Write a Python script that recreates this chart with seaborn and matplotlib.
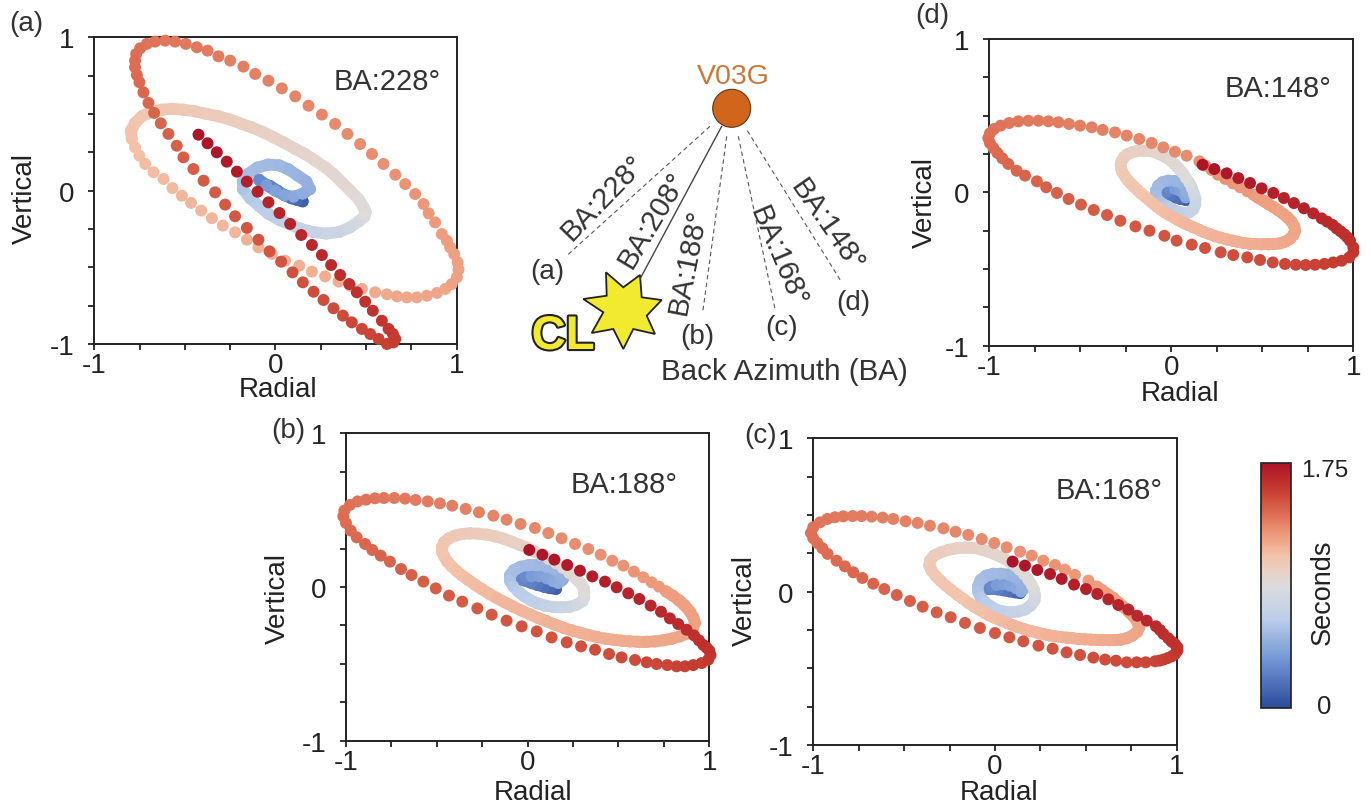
import numpy as np
import pandas as pd
import matplotlib
matplotlib.use("Agg")
import matplotlib.pyplot as plt
import seaborn as sns
from matplotlib.collections import LineCollection
from matplotlib.colors import LinearSegmentedColormap, Normalize
from matplotlib.patches import Circle, Polygon
import matplotlib.patheffects as pe

W, H = 1371, 812

# time of every particle motion sample, shared by the four panels
seconds = [
    .10, .14, .18, .21, .24, .26, .28, .30,
    .38, .40, .42, .44, .46, .47,
    .48, .50, .51, .52, .53, .54, .55, .56,
    .58, .61, .63, .65, .67, .68, .70, .72, .74, .75, .79, .81, .84, .88,
    .89, .90, .91, .92, .92, .93, .94, .95, .96, .97, .98, .98, .99, 1.00, 1.01, 1.02, 1.03, 1.04, 1.04, 1.05, 1.06, 1.07, 1.08, 1.08,
    1.09, 1.09, 1.10, 1.10, 1.11, 1.11, 1.12, 1.12, 1.13, 1.13, 1.13, 1.14, 1.14, 1.14, 1.15, 1.15, 1.15, 1.16, 1.16, 1.16, 1.17, 1.17, 1.17, 1.18, 1.18, 1.18,
    1.19, 1.19, 1.19, 1.20, 1.20, 1.20, 1.21, 1.21, 1.21, 1.22, 1.22, 1.22, 1.23, 1.23,
    1.24, 1.25, 1.25, 1.26, 1.26, 1.27, 1.27, 1.28, 1.28, 1.29, 1.29, 1.30, 1.30, 1.31, 1.31, 1.32, 1.32, 1.33, 1.33, 1.34, 1.34, 1.35, 1.35, 1.36,
    1.36, 1.37, 1.37, 1.38, 1.38, 1.39, 1.39, 1.40, 1.40, 1.41, 1.41, 1.42,
    1.42, 1.43, 1.43, 1.44, 1.44, 1.45, 1.45, 1.46, 1.46, 1.47, 1.47, 1.48, 1.48, 1.49, 1.49, 1.50, 1.50, 1.51, 1.51, 1.52, 1.52, 1.53,
    1.54, 1.55, 1.56, 1.56, 1.57, 1.58, 1.59, 1.60,
    1.61, 1.62, 1.62, 1.63, 1.64, 1.65, 1.65, 1.66, 1.67, 1.68, 1.68, 1.69, 1.70, 1.71, 1.72, 1.73, 1.74, 1.75,
]

a_radial = [
    .15, .12, .09, .05, .01, -.03, -.07, -.09,
    -.05, 0, .05, .10, .15, .19,
    .17, .12, .07, .02, -.04, -.10, -.15, -.18,
    -.18, -.14, -.09, -.04, .02, .08, .14, .21, .28, .35, .41, .46, .49, .497,
    .486, .458, .412, .366, .320, .274, .219, .164, .109, .044, -.011, -.066, -.131, -.186, -.250, -.315, -.379, -.443, -.508, -.572, -.627, -.683, -.738, -.775,
    -.797, -.793, -.775, -.751, -.719, -.673, -.618, -.569, -.517, -.466, -.410, -.351, -.291, -.223, -.158, -.094, -.020, .053, .131, .201, .274, .348, .412, .477, .550, .615,
    .670, .725, .780, .835, .891, .937, .973, 1.001, 1.010, 1.005, .986, .964, .946, .918,
    .881, .845, .817, .771, .716, .661, .596, .532, .467, .397, .329, .256, .182, .109, .035, -.039, -.112, -.177, -.250, -.315, -.375, -.434, -.495, -.554,
    -.609, -.664, -.710, -.747, -.769, -.775, -.775, -.765, -.751, -.729, -.701, -.670,
    -.633, -.591, -.545, -.508, -.453, -.397, -.333, -.278, -.223, -.158, -.094, -.033, .031, .094, .151, .210, .265, .320, .372, .421, .477, .523,
    .569, .615, .651, .661, .648, .624, .587, .537,
    .495, .449, .407, .357, .307, .256, .201, .142, .081, .022, -.039, -.099, -.158, -.213, -.269, -.324, -.375, -.425,
]
a_vertical = [
    -.07, -.06, -.05, -.03, 0, .03, .05, .07,
    .035, 0, -.03, -.04, -.02, .01,
    .06, .10, .14, .165, .17, .15, .11, .06,
    .01, -.05, -.10, -.15, -.19, -.22, -.25, -.27, -.28, -.27, -.24, -.20, -.17, -.14,
    -.109, -.054, 0, .054, .109, .152, .196, .239, .272, .315, .348, .380, .413, .435, .463, .485, .5, .517, .528, .533, .528, .515, .485, .441,
    .391, .337, .283, .228, .174, .120, .076, .017, -.033, -.080, -.130, -.180, -.228, -.272, -.320, -.370, -.413, -.457, -.489, -.528, -.559, -.593, -.620, -.641, -.663, -.676,
    -.689, -.696, -.696, -.685, -.667, -.641, -.609, -.565, -.515, -.467, -.413, -.370, -.326, -.283,
    -.207, -.148, -.087, -.022, .043, .104, .174, .239, .304, .370, .435, .496, .554, .615, .667, .717, .761, .809, .848, .876, .913, .935, .957, .972,
    .978, .972, .957, .928, .891, .848, .804, .754, .707, .641, .572, .507,
    .439, .370, .293, .217, .141, .065, -.011, -.091, -.167, -.243, -.320, -.396, -.463, -.533, -.598, -.659, -.713, -.767, -.815, -.859, -.902, -.935,
    -.967, -1.0, -.989, -.967, -.935, -.902, -.848, -.783,
    -.724, -.663, -.609, -.550, -.485, -.420, -.354, -.289, -.217, -.146, -.076, -.007, .059, .124, .189, .250, .309, .365,
]

b_radial = [
    .156, .123, .090, .055, .022, -.009, -.033, -.015,
    .022, .064, .105, .141, .169, .193,
    .178, .145, .105, .059, .009, -.039, -.075, -.097,
    -.097, -.079, -.051, -.018, .017, .053, .095, .141, .187, .233, .270, .301, .312, .312,
    .310, .292, .261, .229, .193, .156, .116, .075, .035, -.006, -.046, -.088, -.134, -.180, -.226, -.272, -.317, -.360, -.400, -.433, -.459, -.472, -.472, -.459,
    -.442, -.418, -.391, -.360, -.327, -.290, -.253, -.213, -.171, -.125, -.079, -.033, .013, .059, .105, .150, .196, .242, .288, .334, .380, .426, .472, .517, .563, .609,
    .655, .701, .747, .793, .839, .879, .908, .921, .912, .894, .866, .835, .798, .761,
    .723, .683, .637, .585, .527, .466, .402, .334, .261, .187, .114, .040, -.039, -.116, -.189, -.268, -.341, -.415, -.483, -.550, -.617, -.675, -.734, -.791,
    -.840, -.890, -.936, -.978, -1.009, -1.015, -1.0, -.974, -.941, -.895, -.855, -.809,
    -.758, -.697, -.639, -.574, -.506, -.433, -.360, -.277, -.198, -.116, -.033, .050, .132, .215, .294, .371, .448, .517, .591, .655, .710, .769,
    .820, .866, .912, .958, .994, 1.007, 1.0, .985,
    .967, .943, .916, .875, .829, .783, .734, .677, .615, .554, .490, .426, .356, .288, .218, .147, .081, .009,
]
b_vertical = [
    -.013, -.007, .002, .013, .026, .039, .048, .063,
    .069, .069, .056, .037, .026, .048,
    .085, .113, .132, .143, .143, .132, .111, .078,
    .041, .004, -.030, -.061, -.087, -.106, -.121, -.130, -.132, -.128, -.115, -.093, -.067, -.039,
    -.013, .024, .059, .091, .124, .154, .182, .208, .232, .256, .275, .295, .315, .330, .341, .347, .349, .345, .334, .317, .291, .260, .230, .197,
    .165, .134, .104, .074, .046, .015, -.013, -.043, -.072, -.100, -.128, -.154, -.178, -.202, -.223, -.245, -.265, -.282, -.297, -.312, -.325, -.336, -.343, -.349, -.354, -.356,
    -.356, -.354, -.347, -.336, -.321, -.302, -.273, -.234, -.197, -.161, -.121, -.089, -.056, -.028,
    .002, .030, .063, .100, .139, .171, .210, .247, .280, .317, .351, .384, .410, .438, .464, .486, .508, .529, .544, .557, .566, .575, .579, .579,
    .577, .568, .557, .534, .497, .460, .416, .367, .323, .280, .241, .204,
    .165, .117, .078, .035, -.009, -.056, -.095, -.139, -.180, -.219, -.256, -.289, -.328, -.360, -.386, -.408, -.436, -.458, -.475, -.490, -.501, -.508,
    -.516, -.516, -.508, -.495, -.473, -.443, -.414, -.395,
    -.377, -.347, -.315, -.278, -.241, -.204, -.161, -.121, -.078, -.041, -.002, .035, .069, .106, .143, .178, .210, .241,
]

c_radial = [
    .138, .110, .079, .046, .015, -.013, -.037, -.018,
    .009, .046, .083, .116, .143, .156,
    .141, .110, .073, .031, -.009, -.050, -.079, -.092,
    -.092, -.079, -.055, -.024, .009, .046, .086, .128, .165, .196, .217, .220, .215, .202,
    .183, .160, .134, .105, .073, .037, 0, -.037, -.079, -.119, -.165, -.211, -.257, -.297, -.336, -.358, -.361, -.349, -.325, -.299, -.270, -.239, -.207, -.174,
    -.145, -.117, -.088, -.059, -.028, .004, .035, .066, .099, .132, .165, .198, .231, .264, .297, .330, .363, .396, .429, .462, .495, .528, .561, .594, .628, .661,
    .692, .725, .756, .783, .794, .783, .761, .734, .706, .679, .651, .624, .593, .560,
    .514, .440, .385, .330, .266, .202, .138, .064, -.004, -.073, -.147, -.217, -.284, -.358, -.426, -.492, -.560, -.618, -.679, -.734, -.783, -.835, -.881, -.923,
    -.963, -1.0, -1.013, -1.0, -.978, -.950, -.921, -.872, -.826, -.780, -.730, -.670,
    -.609, -.541, -.468, -.398, -.321, -.244, -.165, -.083, 0, .079, .156, .239, .317, .394, .468, .541, .606, .666, .725, .780, .829, .881,
    .905, .927, .950, .972, .991, 1.004, 1.004, .991,
    .972, .954, .927, .908, .886, .835, .783, .734, .679, .624, .563, .501, .435, .367, .303, .233, .165, .097,
]
c_vertical = [
    -.009, -.004, .002, .009, .015, .020, .017, .033,
    .043, .048, .039, .022, 0, .017,
    .061, .091, .111, .117, .117, .104, .076, .039,
    0, -.037, -.070, -.096, -.117, -.130, -.135, -.130, -.117, -.091, -.059, -.026, .007, .043,
    .078, .113, .143, .174, .2, .224, .243, .261, .276, .285, .287, .283, .272, .257, .235, .202, .170, .137, .100, .070, .039, .009, -.020, -.048,
    -.074, -.096, -.117, -.137, -.157, -.174, -.189, -.204, -.220, -.233, -.246, -.257, -.267, -.276, -.285, -.291, -.296, -.3, -.304, -.309, -.311, -.313, -.315, -.317, -.317, -.315,
    -.313, -.304, -.287, -.261, -.233, -.196, -.161, -.130, -.098, -.070, -.041, -.020, .007, .033,
    .072, .109, .143, .174, .202, .235, .261, .289, .317, .343, .370, .391, .413, .430, .448, .459, .474, .483, .489, .493, .493, .491, .485, .474,
    .452, .420, .383, .348, .317, .283, .246, .202, .165, .126, .089, .052,
    .017, -.022, -.061, -.098, -.135, -.167, -.204, -.237, -.270, -.298, -.324, -.352, -.372, -.396, -.413, -.430, -.443, -.450, -.461, -.461, -.461, -.454,
    -.450, -.443, -.433, -.422, -.407, -.385, -.363, -.343,
    -.326, -.304, -.276, -.25, -.226, -.189, -.157, -.117, -.087, -.050, -.015, .017, .046, .083, .115, .141, .170, .196,
]

d_radial = [
    .081, .052, .025, -.003, -.025, -.039, -.028, -.006,
    .021, .048, .07, .081, .083, .077,
    .052, .021, -.016, -.049, -.071, -.083, -.083, -.071,
    -.052, -.028, -.003, .021, .048, .076, .1, .122, .133, .133, .125, .114, .1, .081,
    .063, .041, .019, -.006, -.032, -.061, -.089, -.120, -.153, -.184, -.213, -.241, -.259, -.272, -.277, -.275, -.268, -.253, -.239, -.222, -.204, -.184, -.166, -.145,
    -.124, -.102, -.080, -.058, -.034, -.010, .016, .041, .067, .094, .122, .151, .180, .210, .241, .272, .305, .338, .369, .400, .433, .466, .499, .532, .565, .597,
    .625, .652, .671, .680, .676, .661, .640, .616, .588, .561, .533, .506, .478, .451,
    .418, .378, .338, .297, .257, .222, .188, .155, .085, .021, -.043, -.107, -.175, -.244, -.308, -.376, -.436, -.500, -.561, -.619, -.674, -.729, -.784, -.839,
    -.890, -.936, -.973, -.995, -1.004, -.995, -.976, -.954, -.927, -.894, -.848, -.802,
    -.737, -.686, -.627, -.563, -.495, -.425, -.352, -.279, -.196, -.119, -.037, .030, .113, .186, .272, .341, .418, .488, .558, .625, .684, .738,
    .790, .841, .890, .936, .978, 1.0, 1.0, .982,
    .967, .951, .930, .908, .887, .857, .826, .780, .729, .674, .619, .561, .497, .433, .369, .305, .237, .173,
]
d_vertical = [
    -.05, -.043, -.033, -.017, -.004, .004, .017, .026,
    .022, .011, -.011, -.033, -.005, .03,
    .061, .072, .076, .065, .043, .011, -.022, -.05,
    -.07, -.087, -.104, -.12, -.13, -.137, -.13, -.109, -.076, -.043, -.011, .026, .061, .093,
    .126, .157, .183, .209, .230, .248, .261, .270, .272, .270, .261, .248, .228, .204, .180, .157, .130, .104, .080, .059, .037, .015, -.007, -.026,
    -.048, -.070, -.091, -.111, -.130, -.148, -.165, -.183, -.198, -.213, -.228, -.243, -.259, -.272, -.285, -.296, -.307, -.315, -.324, -.330, -.335, -.337, -.339, -.339, -.337, -.333,
    -.322, -.304, -.278, -.25, -.222, -.191, -.165, -.141, -.117, -.096, -.076, -.054, -.035, -.015,
    .007, .033, .059, .087, .115, .146, .174, .202, .239, .265, .293, .322, .348, .370, .391, .407, .424, .435, .446, .457, .463, .467, .467, .463,
    .452, .435, .413, .385, .354, .322, .289, .257, .222, .185, .141, .109,
    .072, .033, -.004, -.043, -.080, -.115, -.148, -.185, -.222, -.250, -.283, -.315, -.341, -.363, -.391, -.409, -.424, -.441, -.457, -.467, -.472, -.474,
    -.472, -.467, -.457, -.446, -.424, -.391, -.359, -.315,
    -.293, -.274, -.254, -.235, -.213, -.191, -.170, -.137, -.104, -.070, -.037, -.004, .026, .061, .093, .124, .152, .180,
]

panel_boxes = {"a": (94.3, 38.3, 456.7, 345), "b": (346, 434.3, 709.3, 741.7),
               "c": (813.3, 439.3, 1176.7, 746), "d": (989, 40, 1353.3, 346.7)}
panel_series = {"a": (a_radial, a_vertical), "b": (b_radial, b_vertical),
                "c": (c_radial, c_vertical), "d": (d_radial, d_vertical)}
panel_ba = {"a": "BA:228°", "b": "BA:188°", "c": "BA:168°", "d": "BA:148°"}
ba_pos = {"a": (387, 82), "b": (624, 485), "c": (1109, 491), "d": (1278, 89)}
letter_pos = {"a": (26, 24), "b": (288, 431), "c": (761, 436), "d": (932, 16)}
radial_pos = {"a": (278, 390), "b": (533, 793), "c": (999, 793), "d": (1180, 394)}
vertical_pos = {"a": (25, 199), "b": (278, 599), "c": (745, 601), "d": (925, 202)}
band_end = {"a": 62, "b": 100, "c": 100, "d": 100}
tick_values = [-1, -.75, -.5, -.25, 0, .25, .5, .75, 1]
tick_labels = ["-1", "", "", "", "0", "", "", "", "1"]

# source-station sketch, in figure pixels
station = (731.7, 109.3)
dashed_rays = [((710, 127.3), (566.7, 256.7)), ((726.7, 137.3), (702.7, 313.3)),
               ((738.3, 137.3), (775, 310)), ((747.3, 131.7), (841.7, 283.3))]
solid_ray = ((721.7, 127.3), (640, 280))
star = [(606, 273.3), (623.3, 288.3), (640, 276), (641.7, 298.3), (661.7, 301), (646.7, 316.7), (655, 335),
        (633.3, 330), (623.3, 350), (613.3, 330), (591.7, 334), (603.3, 313.3), (583.3, 300), (606.7, 296.7)]
ray_labels = [("BA:228°", 603, 198, 46), ("BA:208°", 652, 220, 59), ("BA:188°", 688, 262, 79),
              ("BA:168°", 778, 257, -67), ("BA:148°", 827, 226, -55)]
end_labels = [("(a)", 547, 272), ("(b)", 697, 337), ("(c)", 782, 328), ("(d)", 853, 303)]

sns.set_theme(style="ticks")
plt.rcParams["font.family"] = ["Liberation Sans", "DejaVu Sans"]

cmap = LinearSegmentedColormap.from_list("seconds", [
    (0, "#2b4a9c"), (.2, "#7497d6"), (.36, "#bacdea"), (.5, "#dcdcdc"), (.62, "#f3c4ac"),
    (.7, "#ee9f80"), (.8, "#dc6a50"), (.9, "#c4392f"), (1, "#ac1428")])
norm = Normalize(0, 1.75)
ink = "#222222"

fig = plt.figure(figsize=(W / 100, H / 100), dpi=100, facecolor="white")


def box_to_axes(x0, y0, x1, y1):
    return [x0 / W, 1 - y1 / H, (x1 - x0) / W, (y1 - y0) / H]


for key, box in panel_boxes.items():
    ax = fig.add_axes(box_to_axes(*box))
    radial, vertical = panel_series[key]
    data = pd.DataFrame({"Radial": radial, "Vertical": vertical, "Seconds": seconds})

    # the early samples sit so close together that they read as a band
    end = band_end[key]
    pts = data[["Radial", "Vertical"]].to_numpy()[:end]
    segs = np.stack([pts[:-1], pts[1:]], axis=1)
    band = LineCollection(segs, cmap=cmap, norm=norm, linewidths=8.5, capstyle="round", zorder=2.9)
    band.set_array(data["Seconds"].to_numpy()[1:end])
    ax.add_collection(band)

    sns.scatterplot(data=data, x="Radial", y="Vertical", hue="Seconds", palette=cmap, hue_norm=norm,
                    s=74, linewidth=0, legend=False, clip_on=False, zorder=3, ax=ax)
    ax.set_xlim(-1, 1)
    ax.set_ylim(-1, 1)
    ax.set_xticks(tick_values, tick_labels)
    ax.set_yticks(tick_values, tick_labels)
    ax.tick_params(length=4, width=1.3, color=ink, labelsize=20, labelcolor=ink)
    ax.tick_params(axis="x", pad=2)
    ax.tick_params(axis="y", pad=10)
    for spine in ax.spines.values():
        spine.set_visible(True)
        spine.set_linewidth(1.4)
        spine.set_color(ink)
    ax.set_xlabel("Radial", fontsize=20, color=ink, va="center")
    ax.set_ylabel("Vertical", fontsize=20, color=ink, va="center")
    ax.xaxis.set_label_coords(radial_pos[key][0] / W, 1 - radial_pos[key][1] / H, transform=fig.transFigure)
    ax.yaxis.set_label_coords(vertical_pos[key][0] / W, 1 - vertical_pos[key][1] / H, transform=fig.transFigure)
    fig.text(ba_pos[key][0] / W, 1 - ba_pos[key][1] / H, panel_ba[key], fontsize=21, color="#333333",
             ha="center", va="center")
    fig.text(letter_pos[key][0] / W, 1 - letter_pos[key][1] / H, f"({key})", fontsize=20, color="#333333",
             ha="center", va="center")

# sketch layer over the whole figure, y pointing down like the picture
sketch = fig.add_axes([0, 0, 1, 1], facecolor="none")
sketch.set_xlim(0, W)
sketch.set_ylim(H, 0)
sketch.axis("off")
for start, end in dashed_rays:
    sketch.plot([start[0], end[0]], [start[1], end[1]], ls=(0, (4, 3)), lw=0.8, color="#555555")
sketch.plot([solid_ray[0][0], solid_ray[1][0]], [solid_ray[0][1], solid_ray[1][1]], lw=1, color="#444444")
sketch.add_patch(Circle(station, 19, facecolor="#d2651c", edgecolor="#5a3a20", lw=0.8))
sketch.add_patch(Polygon(star, closed=True, facecolor="#f2ea2e", edgecolor=ink, lw=1.3))
sketch.text(733, 77, "V03G", fontsize=20.5, color="#c8793a", ha="center", va="center")
for label, x, y, rot in ray_labels:
    sketch.text(x, y, label, fontsize=21, color="#333333", ha="center", va="center", rotation=rot,
                rotation_mode="anchor")
for label, x, y in end_labels:
    sketch.text(x, y, label, fontsize=20, color="#333333", ha="center", va="center")
sketch.text(784, 372, "Back Azimuth (BA)", fontsize=21.3, color="#333333", ha="center", va="center")
cl = sketch.text(563, 338, "CL", fontsize=34, fontweight="bold", color="#f2ea2e", ha="center", va="center")
cl.set_path_effects([pe.withStroke(linewidth=3, foreground=ink)])

# colour bar
cax = fig.add_axes(box_to_axes(1261, 464.3, 1290.7, 709))
fig.colorbar(plt.cm.ScalarMappable(norm=norm, cmap=cmap), cax=cax, ticks=[])
sketch.text(1325, 471, "1.75", fontsize=17.5, color=ink, ha="center", va="center")
sketch.text(1324, 707, "0", fontsize=18.5, color=ink, ha="center", va="center")
sketch.text(1323, 592, "Seconds", fontsize=19.5, color=ink, ha="center", va="center", rotation=90)

fig.savefig("out.png", dpi=100)
